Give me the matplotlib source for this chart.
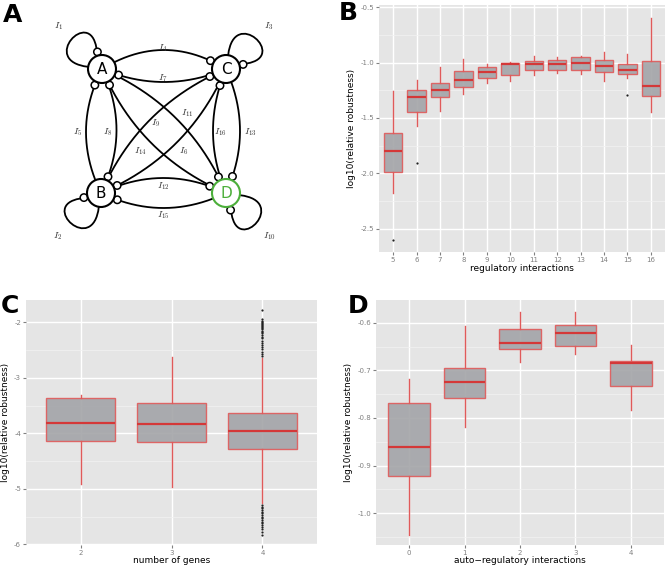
import numpy as np
import matplotlib
matplotlib.use("Agg")
import matplotlib.pyplot as plt
from matplotlib.path import Path
from matplotlib.patches import Circle

plt.rcParams["axes.unicode_minus"] = False
plt.rcParams["mathtext.fontset"] = "cm"

# ==========================================================
# DATA
# ==========================================================

# panel A: network motif (pixel layout of the drawing)
node_names = ["A", "B", "C", "D"]
node_x = [102, 101, 226, 226]
node_y = [69, 193, 69, 193]
node_colors = ["black", "black", "black", "#4CAF3A"]

# self loops: node, outward angle (deg, y down), label
loop_nodes = ["A", "C", "B", "D"]
loop_angles = [225, 315, 135, 45]
loop_labels = ["$I_1$", "$I_3$", "$I_2$", "$I_{10}$"]

# edges: source, target (end with circle), bend, label, label position
edge_src = ["A", "C", "B", "A", "C", "D", "B", "D", "A", "D", "B", "C"]
edge_dst = ["C", "A", "A", "B", "D", "C", "D", "B", "D", "A", "C", "B"]
edge_bend = [-38, -26, -31, -30, -28, -26, -30, -30, -35, -35, -35, -35]
edge_labels = ["$I_4$", "$I_7$", "$I_5$", "$I_8$", "$I_{13}$", "$I_{16}$",
               "$I_{12}$", "$I_{15}$", "$I_{11}$", "$I_6$", "$I_{14}$", "$I_9$"]
edge_lab_x = [163, 163, 78, 108, 250, 220, 163, 163, 187, 184, 140, 156]
edge_lab_y = [48, 78, 132, 132, 132, 132, 186, 215, 113, 151, 151, 123]

# panel B: regulatory interactions
b_cats = [5, 6, 7, 8, 9, 10, 11, 12, 13, 14, 15, 16]
b_whislo = [-2.18, -1.576, -1.439, -1.281, -1.188, -1.164, -1.11, -1.093, -1.10, -1.17, -1.14, -1.448]
b_q1 = [-1.991, -1.442, -1.307, -1.224, -1.14, -1.116, -1.069, -1.069, -1.069, -1.084, -1.10, -1.301]
b_med = [-1.797, -1.313, -1.248, -1.155, -1.081, -1.01, -1.009, -1.015, -1.003, -1.027, -1.063, -1.209]
b_q3 = [-1.636, -1.248, -1.188, -1.078, -1.036, -1.0, -0.988, -0.973, -0.952, -0.979, -1.012, -0.988]
b_whishi = [-1.254, -1.158, -1.039, -0.964, -1.009, -0.991, -0.937, -0.946, -0.937, -0.907, -0.925, -0.597]
b_fliers = [[-2.60], [-1.91], [], [], [], [], [], [], [], [], [-1.29], []]

# panel C: number of genes
c_cats = [2, 3, 4]
c_whislo = [-4.905, -4.964, -5.262]
c_q1 = [-4.137, -4.149, -4.28]
c_med = [-3.815, -3.839, -3.964]
c_q3 = [-3.363, -3.458, -3.631]
c_whishi = [-3.315, -2.63, -2.643]
c_fliers = [[], [],
            [-1.78, -1.95, -1.97, -1.99, -2.01, -2.03, -2.05, -2.07, -2.09, -2.11,
             -2.13, -2.15, -2.17, -2.2, -2.23, -2.26, -2.29, -2.33, -2.37, -2.41,
             -2.45, -2.49, -2.53, -2.57, -2.61,
             -5.29, -5.32, -5.35, -5.38, -5.41, -5.44, -5.47, -5.5, -5.53, -5.56,
             -5.59, -5.62, -5.65, -5.68, -5.72, -5.78, -5.83]]

# panel D: auto-regulatory interactions
d_cats = [0, 1, 2, 3, 4]
d_whislo = [-1.045, -0.818, -0.683, -0.665, -0.783]
d_q1 = [-0.921, -0.758, -0.656, -0.649, -0.733]
d_med = [-0.861, -0.724, -0.642, -0.622, -0.685]
d_q3 = [-0.769, -0.695, -0.614, -0.605, -0.681]
d_whishi = [-0.719, -0.606, -0.577, -0.577, -0.646]

# ==========================================================
# STYLE
# ==========================================================

BG = "#E5E5E5"
BOX_FACE = "#A3A4A8"
BOX_EDGE = "#E05A5A"
MED_COL = "#D43838"
TICK_COL = "#808080"

NODE_R = 14
TIP_R = 3.7


def box_panel(ax, cats, whislo, q1, med, q3, whishi, fliers, width):
    stats = []
    for i in range(len(cats)):
        stats.append(dict(med=med[i], q1=q1[i], q3=q3[i],
                          whislo=whislo[i], whishi=whishi[i],
                          fliers=fliers[i] if fliers else []))
    pos = list(range(len(cats)))
    ax.bxp(stats, positions=pos, widths=width, patch_artist=True,
           showcaps=False,
           boxprops=dict(facecolor=BOX_FACE, edgecolor=BOX_EDGE, lw=1.0, alpha=0.9),
           medianprops=dict(color=MED_COL, lw=1.6),
           whiskerprops=dict(color=BOX_EDGE, lw=1.0),
           flierprops=dict(marker="o", markersize=1.6, markerfacecolor="#202020",
                           markeredgecolor="none"))
    ax.set_xticks(pos)
    ax.set_xticklabels([str(c) for c in cats])
    ax.set_xlim(-0.6, len(cats) - 0.4)
    ax.set_facecolor(BG)
    for s in ax.spines.values():
        s.set_visible(False)
    ax.grid(True, which="major", color="white", lw=1.0)
    ax.grid(True, which="minor", axis="y", color="#F2F2F2", lw=0.5)
    ax.set_axisbelow(True)
    ax.tick_params(axis="both", which="major", length=2, color=TICK_COL,
                   labelcolor=TICK_COL, labelsize=5, pad=1.5)
    ax.tick_params(axis="both", which="minor", length=0)
    ax.set_ylabel("log10(relative robustness)", fontsize=6.5, labelpad=3)


def node_pos(name):
    i = node_names.index(name)
    return np.array([node_x[i], node_y[i]], dtype=float)


def unit(deg):
    a = np.deg2rad(deg)
    return np.array([np.cos(a), np.sin(a)])


fig = plt.figure(figsize=(6.66, 5.67), dpi=100)

# ==========================================================
# PANEL A
# ==========================================================

axA = fig.add_axes([0, 1 - 290 / 567, 333 / 666, 290 / 567])
axA.set_xlim(0, 333)
axA.set_ylim(290, 0)
axA.axis("off")

t = np.linspace(0, 1, 600)[:, None]

for src, dst, bend, lab, lx, ly in zip(edge_src, edge_dst, edge_bend,
                                       edge_labels, edge_lab_x, edge_lab_y):
    p0 = node_pos(src)
    p2 = node_pos(dst)
    d = p2 - p0
    n = np.array([-d[1], d[0]]) / np.hypot(*d)
    p1 = (p0 + p2) / 2 + bend * n
    curve = (1 - t) ** 2 * p0 + 2 * (1 - t) * t * p1 + t ** 2 * p2
    ds = np.hypot(*(curve - p0).T)
    dd = np.hypot(*(curve - p2).T)
    keep = (ds >= NODE_R) & (dd >= NODE_R + 2 * TIP_R)
    axA.plot(curve[keep, 0], curve[keep, 1], color="black", lw=1.3,
             solid_capstyle="round", zorder=2)
    k = np.argmin(np.abs(dd - (NODE_R + TIP_R)) + (t[:, 0] < 0.5) * 1e3)
    axA.add_patch(Circle(curve[k], TIP_R, fc="white", ec="black", lw=1.1, zorder=4))
    axA.text(lx, ly, lab, fontsize=7, color="#333333", ha="center", va="center",
             zorder=5)

for name, ang, lab in zip(loop_nodes, loop_angles, loop_labels):
    c = node_pos(name)
    p0 = c + NODE_R * unit(ang - 36)
    p1 = c + 64 * unit(ang - 38)
    p2 = c + 64 * unit(ang + 34)
    p3 = c + (NODE_R + 2 * TIP_R) * unit(ang + 30)
    path = Path([p0, p1, p2, p3], [Path.MOVETO, Path.CURVE4, Path.CURVE4, Path.CURVE4])
    verts = path.to_polygons(closed_only=False)[0]
    axA.plot(verts[:, 0], verts[:, 1], color="black", lw=1.3, zorder=2)
    tip = c + (NODE_R + TIP_R) * unit(ang + 30)
    axA.add_patch(Circle(tip, TIP_R, fc="white", ec="black", lw=1.1, zorder=4))
    lp = c + 61 * unit(ang)
    axA.text(lp[0], lp[1], lab, fontsize=7, color="#333333", ha="center",
             va="center")

for name, col in zip(node_names, node_colors):
    c = node_pos(name)
    axA.add_patch(Circle(c, NODE_R, fc="white", ec=col, lw=1.5, zorder=6))
    axA.text(c[0], c[1] + 0.5, name, fontsize=11, color=col, ha="center",
             va="center", zorder=7)

# ==========================================================
# PANEL B
# ==========================================================

axB = fig.add_axes([379 / 666, 1 - 252 / 567, 286 / 666, 247 / 567])
box_panel(axB, b_cats, b_whislo, b_q1, b_med, b_q3, b_whishi, b_fliers, 0.78)
axB.set_ylim(-2.71, -0.48)
axB.set_yticks([-2.5, -2.0, -1.5, -1.0, -0.5])
axB.set_yticklabels(["-2.5", "-2.0", "-1.5", "-1.0", "-0.5"])
axB.set_yticks([-2.25, -1.75, -1.25, -0.75], minor=True)
axB.set_xlabel("regulatory interactions", fontsize=6.5, labelpad=0.5)

# ==========================================================
# PANEL C
# ==========================================================

axC = fig.add_axes([26 / 666, 1 - 545 / 567, 291 / 666, 245 / 567])
box_panel(axC, c_cats, c_whislo, c_q1, c_med, c_q3, c_whishi, c_fliers, 0.75)
axC.set_ylim(-6.01, -1.6)
axC.set_yticks([-6, -5, -4, -3, -2])
axC.set_yticks([-5.5, -4.5, -3.5, -2.5], minor=True)
axC.set_xlabel("number of genes", fontsize=6.5, labelpad=0.3)

# ==========================================================
# PANEL D
# ==========================================================

axD = fig.add_axes([376 / 666, 1 - 545 / 567, 288 / 666, 245 / 567])
box_panel(axD, d_cats, d_whislo, d_q1, d_med, d_q3, d_whishi, None, 0.75)
axD.set_ylim(-1.067, -0.552)
axD.set_yticks([-1.0, -0.9, -0.8, -0.7, -0.6])
axD.set_yticklabels(["-1.0", "-0.9", "-0.8", "-0.7", "-0.6"])
axD.set_yticks([-1.05, -0.95, -0.85, -0.75, -0.65], minor=True)
axD.set_xlabel("auto\u2212regulatory interactions", fontsize=6.5, labelpad=0.3)

# panel letters
for letter, px, py in [("A", 3, 3), ("B", 339, 1), ("C", 1, 294), ("D", 348, 294)]:
    fig.text(px / 666, 1 - py / 567, letter, fontsize=18, fontweight="bold",
             ha="left", va="top")

plt.savefig("out.png", dpi=100)
